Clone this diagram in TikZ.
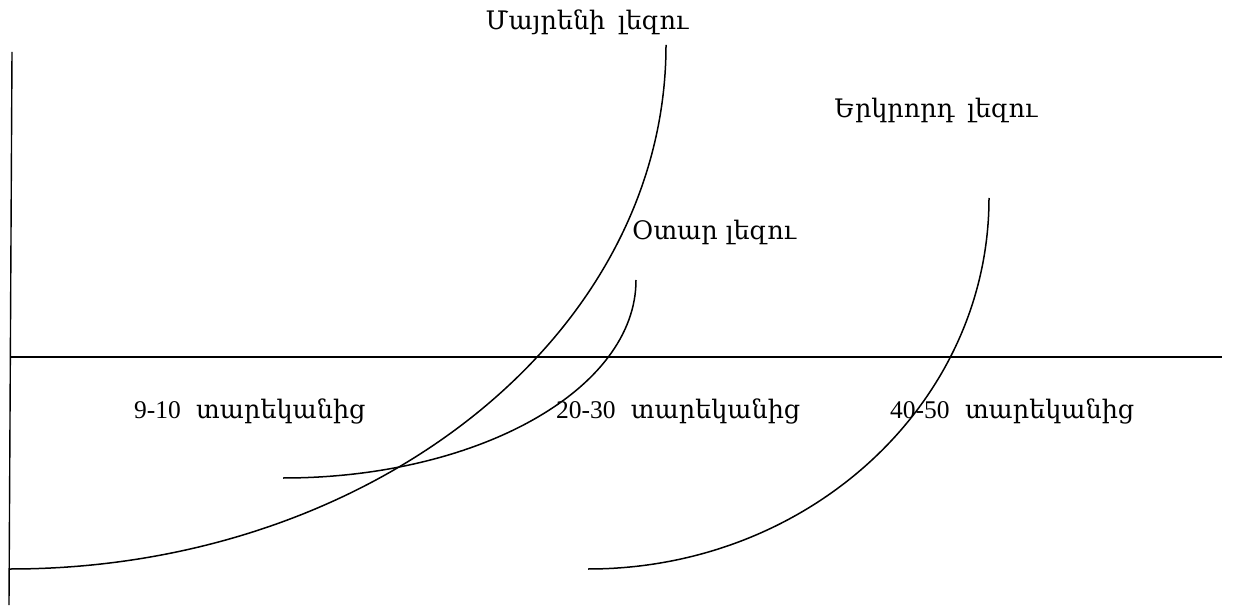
\documentclass[tikz,border=0pt]{standalone}
\usepackage{fontspec}
\setmainfont{Liberation Serif}
\newfontfamily\armfont{DejaVu Serif}
\begin{document}
\begin{tikzpicture}[x=1pt,y=-1pt,
  lbl/.style={font=\fontsize{25.5}{30}\selectfont, inner sep=0pt},
  curveline/.style={line width=1.5pt},
  axisline/.style={line width=1.4pt}]
\useasboundingbox (0,0) rectangle (1236,609);
% axes
\coordinate (vtop) at (12,52);
\coordinate (vbot) at (9,605);
\coordinate (hl) at (10,357);
\coordinate (hr) at (1222,357);
\draw[axisline] (vtop) -- (vbot);
\draw[axisline] (hl) -- (hr);
% curve endpoints
\coordinate (c1a) at (666,45);
\coordinate (c1b) at (10,569);
\coordinate (c2a) at (636,280);
\coordinate (c2b) at (283,478);
\coordinate (c3a) at (989,198);
\coordinate (c3b) at (588,569);
\draw[curveline] (c1a) .. controls (666,334.4) and (372.3,569) .. (c1b);
\draw[curveline] (c2a) .. controls (636,389.4) and (478,478) .. (c2b);
\draw[curveline] (c3a) .. controls (989,402.9) and (809.5,569) .. (c3b);
% labels
\node[lbl] (t1) at (587,22) {\armfont Մայրենի\hspace{0.5em}լեզու};
\node[lbl] (t2) at (936,110) {\armfont Երկրորդ\hspace{0.5em}լեզու};
\node[lbl,anchor=west] (t3) at (632,232) {\armfont Օտար լեզու};
\node[lbl,anchor=west] (a1) at (134,411) {9-10\hspace{0.6em}{\armfont տարեկանից}};
\node[lbl,anchor=west] (a2) at (556,411) {20-30\hspace{0.6em}{\armfont տարեկանից}};
\node[lbl,anchor=west] (a3) at (890,411) {40-50\hspace{0.6em}{\armfont տարեկանից}};
\end{tikzpicture}
\end{document}
